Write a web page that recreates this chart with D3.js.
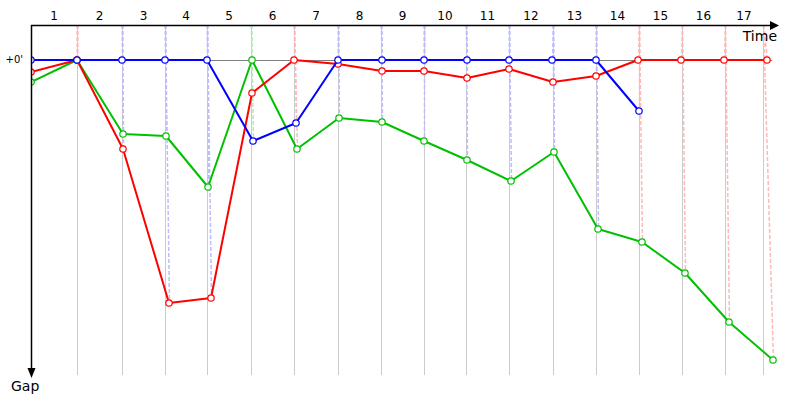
<!DOCTYPE html>
<html>
<head>
<meta charset="utf-8">
<script src="https://cdn.jsdelivr.net/npm/d3@7"></script>
<style>
    body { margin: 0; background: #fff; }
    text { font-family: Tahoma, "DejaVu Sans", sans-serif; }
</style>
</head>
<body>
<svg id="chart" width="800" height="400"></svg>
<script>
/**
 * Data: leader time at each lap end, and each driver's crossing times and gaps.
 */
const laps = d3.range(1, 18);
const lapEnds = [46, 91, 134, 176, 220, 263, 307, 350, 393, 435, 478, 522, 565, 608, 651, 694, 732];
const lapLeaders = ['red', 'blue', 'blue', 'blue', 'green', 'red', 'blue', 'blue', 'blue', 'blue',
    'blue', 'blue', 'blue', 'red', 'red', 'red', 'red'];

const blueTimes = [0, 46, 91, 134, 176, 222, 265, 307, 351, 393, 436, 478, 521, 565, 608];
const blueGaps = [0, 0, 0, 0, 0, 81, 63, 0, 0, 0, 0, 0, 0, 0, 51];

const redTimes = [0, 46, 92, 138, 180, 221, 263, 307, 351, 393, 436, 478, 522, 565, 607, 650, 693, 736];
const redGaps = [12, 0, 89, 243, 238, 33, 0, 4, 11, 11, 18, 9, 22, 16, 0, 0, 0, 0];

const greenTimes = [0, 46, 92, 135, 177, 221, 266, 308, 351, 393, 436, 480, 523, 567, 611, 654, 698, 742];
const greenGaps = [22, 0, 74, 76, 127, 0, 89, 58, 62, 81, 100, 121, 92, 169, 182, 213, 262, 300];

const drivers = [
    { name: 'green', color: '#00c000', times: greenTimes, gaps: greenGaps },
    { name: 'red', color: '#ff0000', times: redTimes, gaps: redGaps },
    { name: 'blue', color: '#0000ff', times: blueTimes, gaps: blueGaps }
];

// Light, opaque shades so overlapping dashes do not darken
const dashColors = { red: '#ffb8b8', blue: '#bcbcff', green: '#b8e8b8' };

/**
 * Layout.
 */
const plotLeft = 31, plotTop = 25, plotBottom = 375, zeroY = 60;

const xScale = d3.scaleLinear().domain([0, 750]).range([plotLeft, plotLeft + 750]);
const yScale = d3.scaleLinear().domain([0, 315]).range([zeroY, zeroY + 315]);

const svg = d3.select('#chart');

svg.append('defs').append('clipPath').attr('id', 'plot-clip')
    .append('rect')
    .attr('x', plotLeft).attr('y', 0)
    .attr('width', 800 - plotLeft).attr('height', 400);

// Lap grid lines
svg.append('g').selectAll('line').data(lapEnds).join('line')
    .attr('x1', d => xScale(d) + 0.5).attr('x2', d => xScale(d) + 0.5)
    .attr('y1', plotTop).attr('y2', plotBottom)
    .attr('stroke', '#cccccc').attr('stroke-width', 1);

// Zero gap line
svg.append('line')
    .attr('x1', plotLeft).attr('x2', 772)
    .attr('y1', yScale(0) + 0.5).attr('y2', yScale(0) + 0.5)
    .attr('stroke', '#808080').attr('stroke-width', 1);

// Dashed links from the leader's crossing to every driver's crossing
const links = [];
drivers.forEach(dr => {
    dr.times.forEach((t, i) => {
        if (i === 0) return;
        links.push({ lap: i - 1, t: t, gap: dr.gaps[i] });
    });
});
svg.append('g').selectAll('line').data(links).join('line')
    .attr('x1', d => xScale(lapEnds[d.lap]) + 0.5)
    .attr('y1', plotTop)
    .attr('x2', d => xScale(d.t) + 0.5)
    .attr('y2', d => yScale(d.gap))
    .attr('stroke', d => dashColors[lapLeaders[d.lap]])
    .attr('stroke-width', 1.5)
    .attr('stroke-dasharray', '4,2');

// Driver lines and points
const plot = svg.append('g').attr('clip-path', 'url(#plot-clip)');
const line = d3.line().x(d => xScale(d.t)).y(d => yScale(d.gap));

drivers.forEach(dr => {
    const pts = dr.times.map((t, i) => ({ t: t, gap: dr.gaps[i] }));
    const g = plot.append('g');
    g.append('path')
        .datum(pts)
        .attr('d', line)
        .attr('fill', 'none')
        .attr('stroke', dr.color)
        .attr('stroke-width', 2)
        .attr('stroke-linejoin', 'round');
    g.selectAll('circle').data(pts).join('circle')
        .attr('cx', d => xScale(d.t))
        .attr('cy', d => yScale(d.gap))
        .attr('r', 3.2)
        .attr('fill', '#fff')
        .attr('stroke', dr.color)
        .attr('stroke-width', 1.2);
});

// Axes
svg.append('line')
    .attr('x1', plotLeft).attr('x2', 772)
    .attr('y1', plotTop + 0.5).attr('y2', plotTop + 0.5)
    .attr('stroke', '#000').attr('stroke-width', 1.5);
svg.append('path')
    .attr('d', 'M770,21L779,25.5L770,30Z')
    .attr('fill', '#000');

svg.append('line')
    .attr('x1', plotLeft + 0.5).attr('x2', plotLeft + 0.5)
    .attr('y1', plotTop).attr('y2', 370)
    .attr('stroke', '#000').attr('stroke-width', 1.5);
svg.append('path')
    .attr('d', 'M27.5,368L31.5,378L35.5,368Z')
    .attr('fill', '#000');

// Lap labels, centred between lap lines
const lapStarts = [0].concat(lapEnds.slice(0, -1));
svg.append('g').selectAll('text').data(laps).join('text')
    .attr('x', (d, i) => xScale((lapStarts[i] + lapEnds[i]) / 2))
    .attr('y', 20)
    .attr('text-anchor', 'middle')
    .attr('font-size', 12)
    .text(d => d);

svg.append('text')
    .attr('x', 777).attr('y', 41)
    .attr('text-anchor', 'end')
    .attr('font-size', 14)
    .text('Time');

svg.append('text')
    .attr('x', 11).attr('y', 391)
    .attr('font-size', 14)
    .text('Gap');

svg.append('text')
    .attr('x', 23).attr('y', 63)
    .attr('text-anchor', 'end')
    .attr('font-size', 10)
    .text("+0'");
</script>
</body>
</html>
